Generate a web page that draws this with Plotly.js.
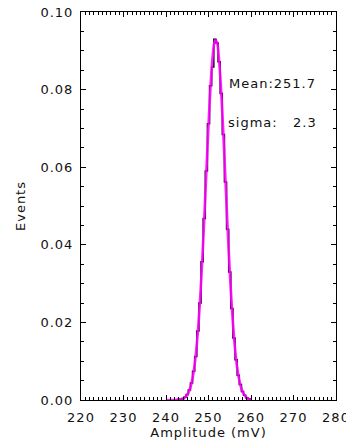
<!DOCTYPE html>
<html>
<head>
<meta charset="utf-8">
<script src="https://cdn.plot.ly/plotly-3.0.1.min.js"></script>
<style>
html,body{margin:0;padding:0;background:#fff;}
#chart{width:346px;height:444px;}
.main-svg text{letter-spacing:1px;}
</style>
</head>
<body>
<div id="chart"></div>
<script>
// Histogram (black), bin centres in mV, 0.5 mV bins
var histX = [242.5,243,243.5,244,244.5,245,245.5,246,246.5,247,247.5,248,248.5,249,249.5,250,250.5,251,251.5,252,252.5,253,253.5,254,254.5,255,255.5,256,256.5,257,257.5,258,258.5,259,259.5,260];
var histCounts = [0.0000,0.0001,0.0002,0.0004,0.0008,0.0014,0.0026,0.0044,0.0074,0.0112,0.0178,0.0250,0.0356,0.0468,0.0590,0.0712,0.0810,0.0858,0.0930,0.0920,0.0872,0.0790,0.0684,0.0562,0.0440,0.0330,0.0236,0.0160,0.0104,0.0064,0.0040,0.0022,0.0012,0.0006,0.0003,0.0000];
// Gaussian fit curve (magenta)
var fitX = [240,241,242,243,243.5,244,244.5,245,245.5,246,246.5,247,247.5,248,248.5,249,249.5,250,250.5,251,251.5,252,252.5,253,253.5,254,254.5,255,255.5,256,256.5,257,257.5,258,258.5,259,259.5,260];
var fitY = [0.0000,0.0000,0.0000,0.0001,0.0002,0.0003,0.0007,0.0013,0.0025,0.0043,0.0072,0.0115,0.0176,0.0255,0.0353,0.0467,0.0589,0.0708,0.0812,0.0888,0.0927,0.0922,0.0875,0.0792,0.0685,0.0564,0.0443,0.0332,0.0238,0.0162,0.0105,0.0065,0.0039,0.0022,0.0012,0.0006,0.0003,0.0001];
var meanText = "Mean:251.7";
var sigmaText = "sigma:\u00a0\u00a0\u00a02.3";
var xTitle = "Amplitude (mV)";
var yTitle = "Events";

var fontFam = "DejaVu Sans, sans-serif";
var data = [
  {x: histX, y: histCounts, type: 'scatter', mode: 'lines',
   line: {shape: 'hvh', color: '#000000', width: 1.5}, hoverinfo: 'skip'},
  {x: fitX, y: fitY, type: 'scatter', mode: 'lines',
   line: {shape: 'spline', color: '#ff00ff', width: 2.6, smoothing: 0.6}, opacity: 0.88, hoverinfo: 'skip'}
];
var axisCommon = {
  showline: true, linecolor: '#000', linewidth: 1, mirror: 'allticks',
  ticks: 'inside', tickcolor: '#000', tickwidth: 1, ticklen: 5,
  showgrid: false, zeroline: false, ticklabeloverflow: 'allow',
  tickfont: {family: fontFam, size: 13, color: '#111'}
};
var layout = {
  width: 346, height: 444,
  margin: {l: 81, r: 10, t: 12, b: 44},
  paper_bgcolor: '#fff', plot_bgcolor: '#fff',
  showlegend: false,
  xaxis: Object.assign({}, axisCommon, {
    range: [220, 280.0001], tickmode: 'array', tickvals: [220,230,240,250,260,270,280],
    ticktext: ['220','230','240','250','260','270','280'],
    minor: {tickmode: 'linear', tick0: 220, dtick: 1, ticks: 'inside', ticklen: 3, tickcolor: '#000', showgrid: false},
    ticklabelstandoff: 5,
    title: {text: xTitle, font: {family: fontFam, size: 13, color: '#111'}, standoff: 2}
  }),
  yaxis: Object.assign({}, axisCommon, {
    range: [0, 0.1], tickmode: 'linear', tick0: 0, dtick: 0.02, tickformat: '.2f',
    minor: {dtick: 0.005, ticks: 'inside', ticklen: 3, tickcolor: '#000', showgrid: false},
    ticklabelstandoff: 4,
    title: {text: yTitle, font: {family: fontFam, size: 13, color: '#111'}, standoff: 15}
  }),
  annotations: [
    {x: 255.5, y: 0.0817, xref: 'x', yref: 'y', text: meanText, showarrow: false,
     xanchor: 'left', yanchor: 'middle', font: {family: fontFam, size: 13, color: '#111'}},
    {x: 255.5, y: 0.0714, xref: 'x', yref: 'y', text: sigmaText, showarrow: false,
     xanchor: 'left', yanchor: 'middle', font: {family: fontFam, size: 13, color: '#111'}}
  ]
};
Plotly.newPlot('chart', data, layout, {staticPlot: true, displayModeBar: false});
</script>
</body>
</html>
